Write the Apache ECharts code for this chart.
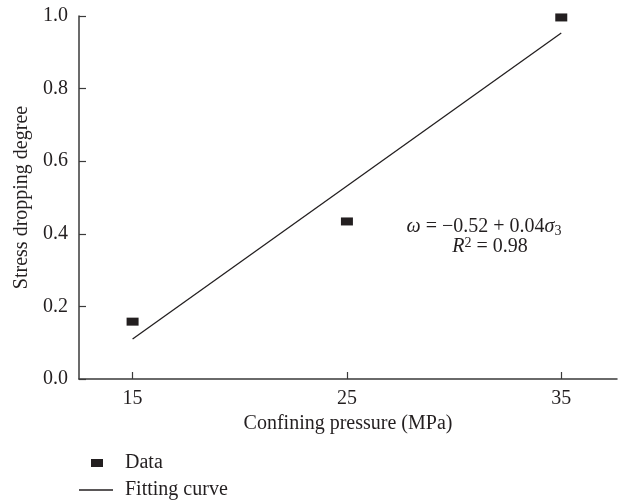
<!DOCTYPE html>
<html>
<head>
<meta charset="utf-8">
<script src="https://cdn.jsdelivr.net/npm/echarts@6/dist/echarts.min.js"></script>
<style>
  html, body { margin: 0; padding: 0; background: #ffffff; }
  #chart { width: 624px; height: 500px; }
</style>
</head>
<body>
<div id="chart"></div>
<script>
// Measured stress dropping degree at each confining pressure
const pressures = [15, 25, 35];
const dropDegree = [0.158, 0.434, 0.996];

// Endpoints of the linear fitting curve
const fitPressures = [15, 35];
const fitDegree = [0.11, 0.953];

// Axis ticks
const xTicks = [15, 25, 35];
const yTicks = [0, 0.2, 0.4, 0.6, 0.8, 1.0];

const FONT = '"Liberation Serif", "Times New Roman", serif';
const FS = 20;
const INK = '#231f20';
const AXIS = '#3a3a3a';

const chart = echarts.init(document.getElementById('chart'), null, { renderer: 'canvas' });

const scatterData = pressures.map((p, i) => [p, dropDegree[i]]);
const fitData = fitPressures.map((p, i) => [p, fitDegree[i]]);

const option = {
  backgroundColor: '#ffffff',
  animation: false,
  grid: { left: 79, right: 7, top: 16, bottom: 121, containLabel: false },
  xAxis: {
    type: 'value',
    min: 12.5,
    max: 37.6,
    name: 'Confining pressure (MPa)',
    nameLocation: 'middle',
    nameGap: 26,
    nameTextStyle: { fontFamily: FONT, fontSize: FS, color: INK, lineHeight: 20 },
    axisLine: { show: true, onZero: false, lineStyle: { color: AXIS, width: 1.5 } },
    axisTick: { show: true, inside: true, length: 7, customValues: xTicks, lineStyle: { color: AXIS, width: 1.2 } },
    axisLabel: { customValues: xTicks, margin: 10, fontFamily: FONT, fontSize: FS, color: INK },
    splitLine: { show: false }
  },
  yAxis: {
    type: 'value',
    min: 0,
    max: 1,
    interval: 0.2,
    name: 'Stress dropping degree',
    nameLocation: 'middle',
    nameGap: 44,
    nameTextStyle: { fontFamily: FONT, fontSize: FS, color: INK },
    axisLine: { show: true, lineStyle: { color: AXIS, width: 1.5 } },
    axisTick: { show: true, inside: true, length: 7, customValues: yTicks, lineStyle: { color: AXIS, width: 1.2 } },
    axisLabel: {
      customValues: yTicks,
      margin: 11,
      fontFamily: FONT,
      fontSize: FS,
      color: INK,
      formatter: v => v.toFixed(1)
    },
    splitLine: { show: false }
  },
  legend: [
    {
      orient: 'vertical',
      left: 91,
      top: 453,
      padding: 0,
      itemWidth: 12,
      itemHeight: 8,
      data: [{ name: 'Data', icon: 'rect', itemStyle: { color: INK, opacity: 1 } }],
      textStyle: { fontFamily: FONT, fontSize: FS, color: INK, lineHeight: 20, padding: [0, 0, 0, 17] }
    },
    {
      orient: 'vertical',
      left: 79,
      top: 480,
      padding: 0,
      itemWidth: 34,
      itemHeight: 1.3,
      symbolKeepAspect: false,
      data: [{ name: 'Fitting curve', icon: 'rect', itemStyle: { color: INK, opacity: 1 } }],
      textStyle: { fontFamily: FONT, fontSize: FS, color: INK, lineHeight: 20, padding: [0, 0, 0, 7] }
    }
  ],
  series: [
    {
      name: 'Data',
      type: 'scatter',
      data: scatterData,
      symbol: 'rect',
      symbolSize: [12, 8],
      itemStyle: { color: INK, opacity: 1 },
      z: 3
    },
    {
      name: 'Fitting curve',
      type: 'line',
      data: fitData,
      symbol: 'none',
      showSymbol: false,
      lineStyle: { color: INK, width: 1.3 },
      itemStyle: { color: INK },
      z: 2
    }
  ],
  graphic: [
    {
      type: 'text',
      x: 484,
      y: 227,
      style: {
        text: '{i|ω} = −0.52 + 0.04{i|σ}{sub|3}',
        align: 'center',
        verticalAlign: 'middle',
        fontFamily: FONT,
        fontSize: FS,
        fill: INK,
        rich: {
          i: { fontFamily: FONT, fontSize: FS, fontStyle: 'italic', fill: INK, lineHeight: 22 },
          sub: { fontFamily: FONT, fontSize: 14, fill: INK, verticalAlign: 'bottom', lineHeight: 22, padding: [8, 0, 0, 0] }
        }
      }
    },
    {
      type: 'text',
      x: 490,
      y: 247,
      style: {
        text: '{i|R}{sup|2} = 0.98',
        align: 'center',
        verticalAlign: 'middle',
        fontFamily: FONT,
        fontSize: FS,
        fill: INK,
        rich: {
          i: { fontFamily: FONT, fontSize: FS, fontStyle: 'italic', fill: INK, lineHeight: 22 },
          sup: { fontFamily: FONT, fontSize: 14, fill: INK, verticalAlign: 'top', lineHeight: 22, padding: [0, 0, 8, 0] }
        }
      }
    }
  ]
};

chart.setOption(option);
</script>
</body>
</html>
